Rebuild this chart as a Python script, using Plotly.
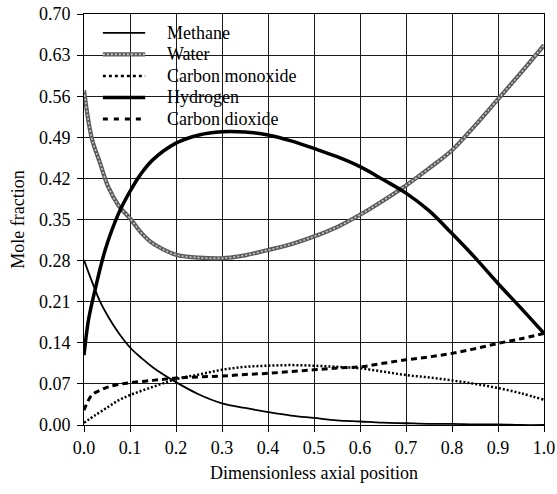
import plotly.graph_objects as go

# Mole fraction profiles along the reactor (dimensionless axial position)
x_methane = [0.0, 0.017, 0.035, 0.053, 0.075, 0.1, 0.125, 0.15, 0.2, 0.25, 0.3, 0.35, 0.4,
             0.45, 0.5, 0.55, 0.6, 0.65, 0.7, 0.75, 0.8, 0.85, 0.9, 0.95, 1.0]
methane = [0.281, 0.245, 0.21, 0.184, 0.157, 0.132, 0.114, 0.098, 0.073, 0.052, 0.037, 0.029, 0.022,
           0.016, 0.012, 0.008, 0.006, 0.004, 0.003, 0.002, 0.002, 0.001, 0.001, 0.0, 0.0]

x_water = [0.0, 0.017, 0.035, 0.053, 0.075, 0.1, 0.125, 0.15, 0.2, 0.25, 0.3, 0.35, 0.4,
           0.45, 0.5, 0.55, 0.6, 0.65, 0.7, 0.75, 0.8, 0.85, 0.9, 0.95, 1.0]
water = [0.570, 0.488, 0.446, 0.405, 0.374, 0.352, 0.327, 0.309, 0.290, 0.285, 0.284, 0.289, 0.298,
         0.308, 0.321, 0.337, 0.358, 0.382, 0.408, 0.437, 0.468, 0.510, 0.555, 0.600, 0.647]

x_co = [0.0, 0.025, 0.053, 0.075, 0.1, 0.15, 0.2, 0.25, 0.3, 0.35, 0.4,
        0.45, 0.5, 0.55, 0.6, 0.65, 0.7, 0.75, 0.8, 0.85, 0.9, 0.95, 1.0]
carbon_monoxide = [0.004, 0.017, 0.031, 0.042, 0.051, 0.065, 0.078, 0.086, 0.094, 0.099, 0.101,
                   0.102, 0.101, 0.099, 0.0965, 0.091, 0.085, 0.081, 0.076, 0.070, 0.063, 0.054, 0.043]

x_hydrogen = [0.0, 0.01, 0.024, 0.046, 0.075, 0.1, 0.125, 0.15, 0.2, 0.25, 0.3, 0.35, 0.4,
              0.45, 0.5, 0.55, 0.6, 0.65, 0.7, 0.75, 0.8, 0.85, 0.9, 0.95, 1.0]
hydrogen = [0.119, 0.18, 0.23, 0.298, 0.36, 0.398, 0.429, 0.452, 0.480, 0.494, 0.4995, 0.499, 0.494,
            0.484, 0.471, 0.457, 0.440, 0.418, 0.395, 0.365, 0.326, 0.285, 0.241, 0.199, 0.156]

x_co2 = [0.0, 0.017, 0.035, 0.053, 0.075, 0.1, 0.15, 0.2, 0.25, 0.3, 0.35, 0.4,
         0.45, 0.5, 0.55, 0.6, 0.65, 0.7, 0.75, 0.8, 0.85, 0.9, 0.95, 1.0]
carbon_dioxide = [0.025, 0.051, 0.059, 0.065, 0.069, 0.072, 0.076, 0.080, 0.082, 0.0834, 0.086, 0.088,
                  0.091, 0.094, 0.097, 0.099, 0.105, 0.111, 0.116, 0.122, 0.130, 0.139, 0.147, 0.156]

x_ticks = [0.0, 0.1, 0.2, 0.3, 0.4, 0.5, 0.6, 0.7, 0.8, 0.9, 1.0]
y_ticks = [0.00, 0.07, 0.14, 0.21, 0.28, 0.35, 0.42, 0.49, 0.56, 0.63, 0.70]

legend_labels = ["Methane", "Water", "Carbon monoxide", "Hydrogen", "Carbon dioxide"]

FONT = "Liberation Serif, Times New Roman, serif"
FS = 18

# line styles per species: list of (color, width, dash) layers drawn bottom to top
styles = {
    "Methane": [("black", 1.8, "solid")],
    "Water": [("#5a5a5a", 4.2, "solid"), ("#c8c8c8", 1.6, "2px,2px")],
    "Carbon monoxide": [("black", 2.5, "2px,2px")],
    "Hydrogen": [("black", 3.5, "solid")],
    "Carbon dioxide": [("black", 3.0, "6px,4px")],
}
series = {
    "Methane": (x_methane, methane),
    "Water": (x_water, water),
    "Carbon monoxide": (x_co, carbon_monoxide),
    "Hydrogen": (x_hydrogen, hydrogen),
    "Carbon dioxide": (x_co2, carbon_dioxide),
}

fig = go.Figure()
for name in legend_labels:
    xs, ys = series[name]
    for color, width, dash in styles[name]:
        fig.add_trace(go.Scatter(x=xs, y=ys, name=name, mode="lines", showlegend=False,
                                 line=dict(color=color, width=width, dash=dash, shape="spline")))

# Borderless key in the upper-left corner of the plotting area
key_x0, key_x1, key_text_x = 0.041, 0.133, 0.176
key_y_top, key_step = 0.954, 0.0523
key_sample_dash = {"Carbon monoxide": "3px,3px", "Carbon dioxide": "5px,6px"}
for i, name in enumerate(legend_labels):
    yk = key_y_top - i * key_step
    for color, width, dash in styles[name]:
        d = key_sample_dash.get(name, dash)
        fig.add_shape(type="line", xref="paper", yref="paper", x0=key_x0, x1=key_x1, y0=yk, y1=yk,
                      line=dict(color=color, width=width, dash=d))
    fig.add_annotation(xref="paper", yref="paper", x=key_text_x, y=yk, text=name,
                       showarrow=False, xanchor="left", yanchor="middle",
                       font=dict(family=FONT, size=FS, color="black"))

axis_common = dict(
    showgrid=True, gridcolor="#1a1a1a", gridwidth=1,
    showline=True, linecolor="black", linewidth=1, mirror=True,
    ticks="outside", ticklen=6, tickcolor="black", tickwidth=1,
    zeroline=False,
    tickfont=dict(family=FONT, size=FS, color="black"),
)

fig.update_xaxes(
    range=[0, 1.0], tickvals=x_ticks, ticktext=[f"{v:.1f}" for v in x_ticks],
    title=dict(text="Dimensionless axial position", font=dict(family=FONT, size=FS, color="black"),
               standoff=9),
    **axis_common,
)
fig.update_yaxes(
    range=[0, 0.70], tickvals=y_ticks, ticktext=[f"{v:.2f}" for v in y_ticks],
    ticklabelstandoff=3,
    title=dict(text="Mole fraction", font=dict(family=FONT, size=FS, color="black"), standoff=9),
    **axis_common,
)

fig.update_layout(
    width=557, height=494,
    margin=dict(l=84, r=13, t=14, b=69, autoexpand=False),
    paper_bgcolor="white", plot_bgcolor="white",
    font=dict(family=FONT, size=FS, color="black"),
    showlegend=False,
)

fig.write_html("out.html")
